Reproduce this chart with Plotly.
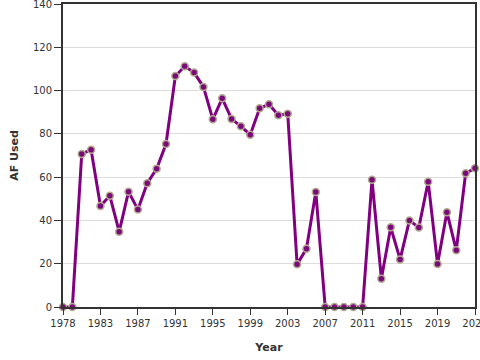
import plotly.graph_objects as go

years = ["1978", "1979", "1981", "1982", "1983", "1984", "1985", "1986", "1987", "1988",
         "1989", "1990", "1991", "1992", "1993", "1994", "1995", "1996", "1997", "1998",
         "1999", "2000", "2001", "2002", "2003", "2004", "2005", "2006", "2007", "2008",
         "2009", "2010", "2011", "2012", "2013", "2014", "2015", "2016", "2017", "2018",
         "2019", "2020", "2021", "2022", "2023"]
af_used = [0, 0, 70.7, 72.7, 46.7, 51.4, 34.8, 53.3, 45, 57.2,
           63.9, 75.3, 106.7, 111.2, 108.3, 101.7, 86.7, 96.4, 86.9, 83.5,
           79.6, 91.8, 93.7, 88.6, 89.3, 19.7, 26.9, 53.1, 0, 0,
           0, 0, 0, 58.8, 13.1, 36.8, 22, 40, 36.7, 57.9,
           19.9, 43.8, 26.2, 61.8, 64.1]
tick_years = ["1978", "1983", "1987", "1991", "1995", "1999", "2003", "2007",
              "2011", "2015", "2019", "2023"]
y_ticks = [0, 20, 40, 60, 80, 100, 120, 140]

fig = go.Figure()
fig.add_trace(go.Scatter(
    x=years, y=af_used, mode="lines+markers",
    line=dict(color="#800080", width=3),
    marker=dict(size=7, color="#7a0a7a", line=dict(color="#b3a98f", width=1.5)),
    cliponaxis=False, showlegend=False,
))

fig.update_layout(
    width=480, height=360,
    margin=dict(l=63, r=5, t=4, b=53),
    paper_bgcolor="white", plot_bgcolor="white",
    font=dict(family="DejaVu Sans", size=10, color="#333"),
)
fig.update_xaxes(
    type="category", categoryorder="array", categoryarray=years,
    range=[0, len(years) - 1],
    tickvals=tick_years, ticktext=tick_years,
    showgrid=False, showline=True, linecolor="#333", linewidth=2, mirror=True,
    ticks="outside", ticklen=6, tickcolor="#333", tickwidth=1,
    tickfont=dict(size=10, color="#333"), ticklabeloverflow="allow",
    title=dict(text="<b>Year</b>", font=dict(size=11, color="#333"), standoff=15),
    automargin=False, zeroline=False,
)
fig.update_yaxes(
    range=[0, 140], tickvals=y_ticks,
    showgrid=True, gridcolor="#dddddd", gridwidth=1,
    showline=True, linecolor="#333", linewidth=2, mirror=True,
    ticks="outside", ticklen=7, tickcolor="#333", tickwidth=1,
    tickfont=dict(size=10, color="#333"), ticklabeloverflow="allow",
    title=dict(text="<b>AF Used</b>", font=dict(size=11, color="#333"), standoff=12),
    automargin=False, zeroline=False,
)

fig.write_html("out.html", config={"displayModeBar": False},
               post_script="document.body.style.margin='0';document.body.style.overflow='hidden';")
